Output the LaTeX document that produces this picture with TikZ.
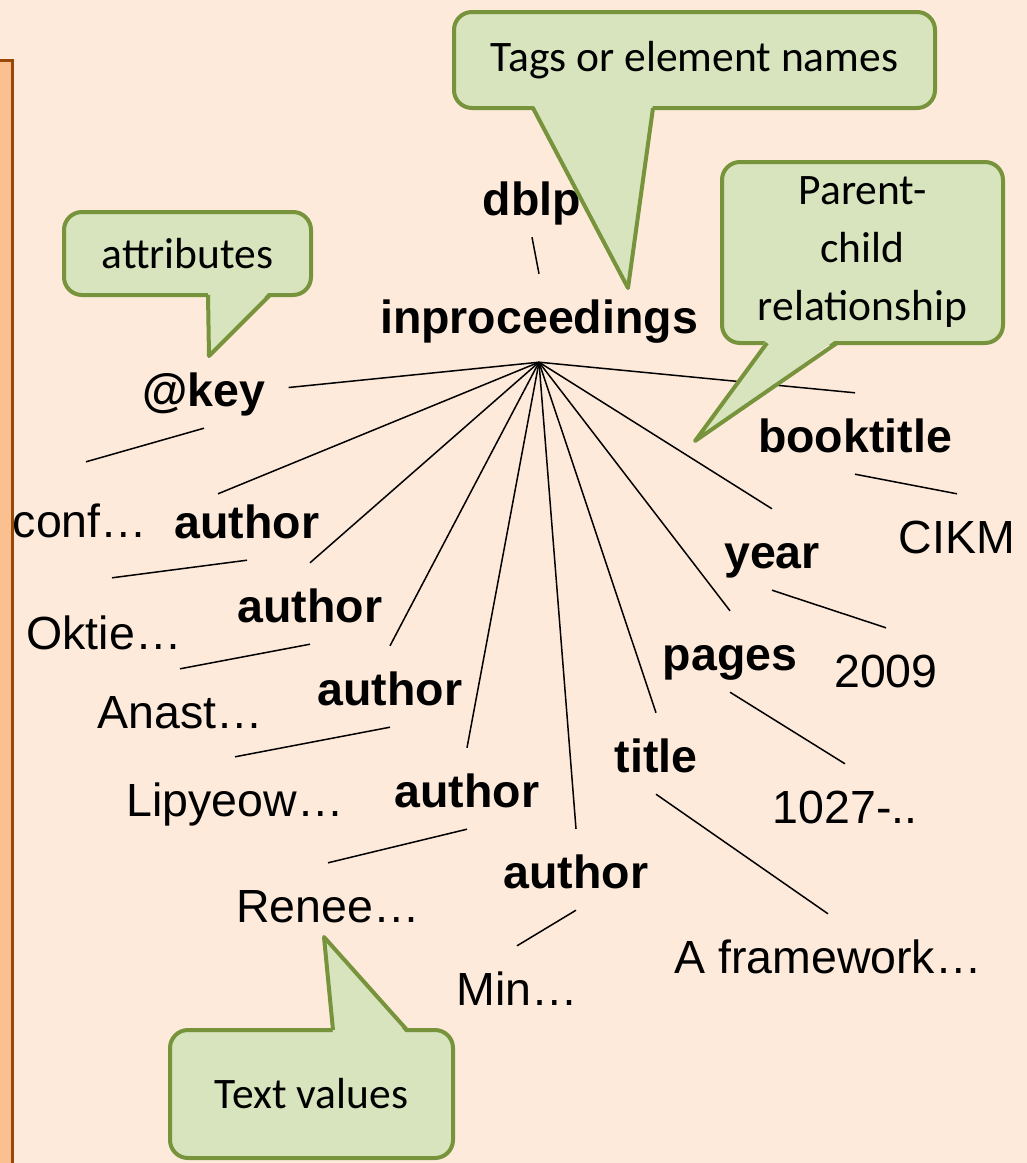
\documentclass[tikz,border=0pt]{standalone}
\usepackage{fontspec}
\setmainfont{Liberation Sans}
\newfontfamily\notefont{Carlito}

\definecolor{paper}{RGB}{253,234,219}
\definecolor{notefill}{RGB}{215,228,189}
\definecolor{noteline}{RGB}{119,147,60}
\definecolor{barfill}{RGB}{250,192,144}
\definecolor{barline}{RGB}{152,72,7}

\tikzset{
  tag/.style={anchor=base, inner sep=0pt, text height=59pt, text depth=22pt,
    font=\fontsize{46.5}{55}\selectfont\bfseries},
  val/.style={tag, font=\fontsize{46.5}{55}\selectfont},
  edge/.style={line width=1.5pt},
  note/.style={draw=noteline, fill=notefill, line width=4pt, rounded corners=18pt,
    align=center, font=\fontsize{43.5}{58}\notefont},
  tip/.style={draw=noteline, line width=4pt, line join=round}
}

\begin{document}
\begin{tikzpicture}[x=1pt, y=-1pt]
    \fill[paper, use as bounding box] (0,0) rectangle (1027,1163);
    % the bar on the left
    \draw[barline, fill=barfill, line width=3pt] (-10,60) rectangle (12,1175);

    % element tree
    \node[tag] (dblp) at (532,215) {dblp};
    \node[tag] (inproc) at (539,333) {inproceedings};
    \coordinate (hub) at ([yshift=-7pt]inproc.south);
    \node[tag] (key) at (204,406) {@key};
    \node[val] (conf) at (80,537) {conf…};
    \node[tag] (au1) at (247,538) {author};
    \node[val] (oktie) at (104,649) {Oktie…};
    \node[tag] (au2) at (310,622) {author};
    \node[val] (anast) at (180,728) {Anast…};
    \node[tag] (au3) at (390,705) {author};
    \node[val] (lipyeow) at (235,816) {Lipyeow…};
    \node[tag] (au4) at (467,807) {author};
    \node[val] (renee) at (328,922) {Renee…};
    \node[tag] (au5) at (576,888) {author};
    \node[val] (min) at (517,1005) {Min…};
    \node[tag] (title) at (656,772) {title};
    \node[val] (framework) at (828,973) {A framework…};
    \node[tag] (pages) at (730,670) {pages};
    \node[val] (range) at (845,823) {1027-..};
    \node[tag] (year) at (772,568) {year};
    \node[val] (yval) at (886,687) {2009};
    \node[tag] (booktitle) at (855,452) {booktitle};
    \node[val] (cikm) at (957,553) {CIKM};

    \draw[edge] (dblp.south) -- (inproc.north);
    \draw[edge] (hub) -- ([xshift=23pt]key.east);
    \draw[edge] (hub) -- ([xshift=-29pt, yshift=-15pt]au1.north);
    \foreach \n in {au2, au3, au4, au5, title, pages, year, booktitle}
        \draw[edge] (hub) -- (\n.north);
    \draw[edge] (key.south) -- ([xshift=6pt, yshift=16pt]conf.north);
    \draw[edge] (au1.south) -- ([xshift=8pt, yshift=12pt]oktie.north);
    \foreach \a/\b in {au2/anast, au3/lipyeow, au4/renee, au5/min,
                       title/framework, pages/range, year/yval, booktitle/cikm}
        \draw[edge] (\a.south) -- (\b.north);

    % callouts
    \node[note, minimum width=481pt, minimum height=96pt] (tagnote) at (694.5,60) {Tags or element names};
    \fill[notefill] (533,104) -- (628,288) -- (653,104) -- cycle;
    \draw[tip] (533,108) -- (628,288) -- (653,108);

    \node[note, minimum width=281pt, minimum height=181pt] (pcnote) at (862.5,252.5) {Parent-\\child\\relationship};
    \fill[notefill] (767,339) -- (695,441) -- (837,339) -- cycle;
    \draw[tip] (767,343) -- (695,441) -- (837,343);

    \node[note, minimum width=247pt, minimum height=83pt] (attrnote) at (187.5,253.5) {attributes};
    \fill[notefill] (208,291) -- (209,356) -- (270,291) -- cycle;
    \draw[tip] (208,295) -- (209,356) -- (270,295);

    \node[note, minimum width=283pt, minimum height=128pt] (textnote) at (311.5,1094) {Text values};
    \fill[notefill] (333,1034) -- (324,937) -- (407,1034) -- cycle;
    \draw[tip] (333,1030) -- (324,937) -- (407,1030);
\end{tikzpicture}
\end{document}
